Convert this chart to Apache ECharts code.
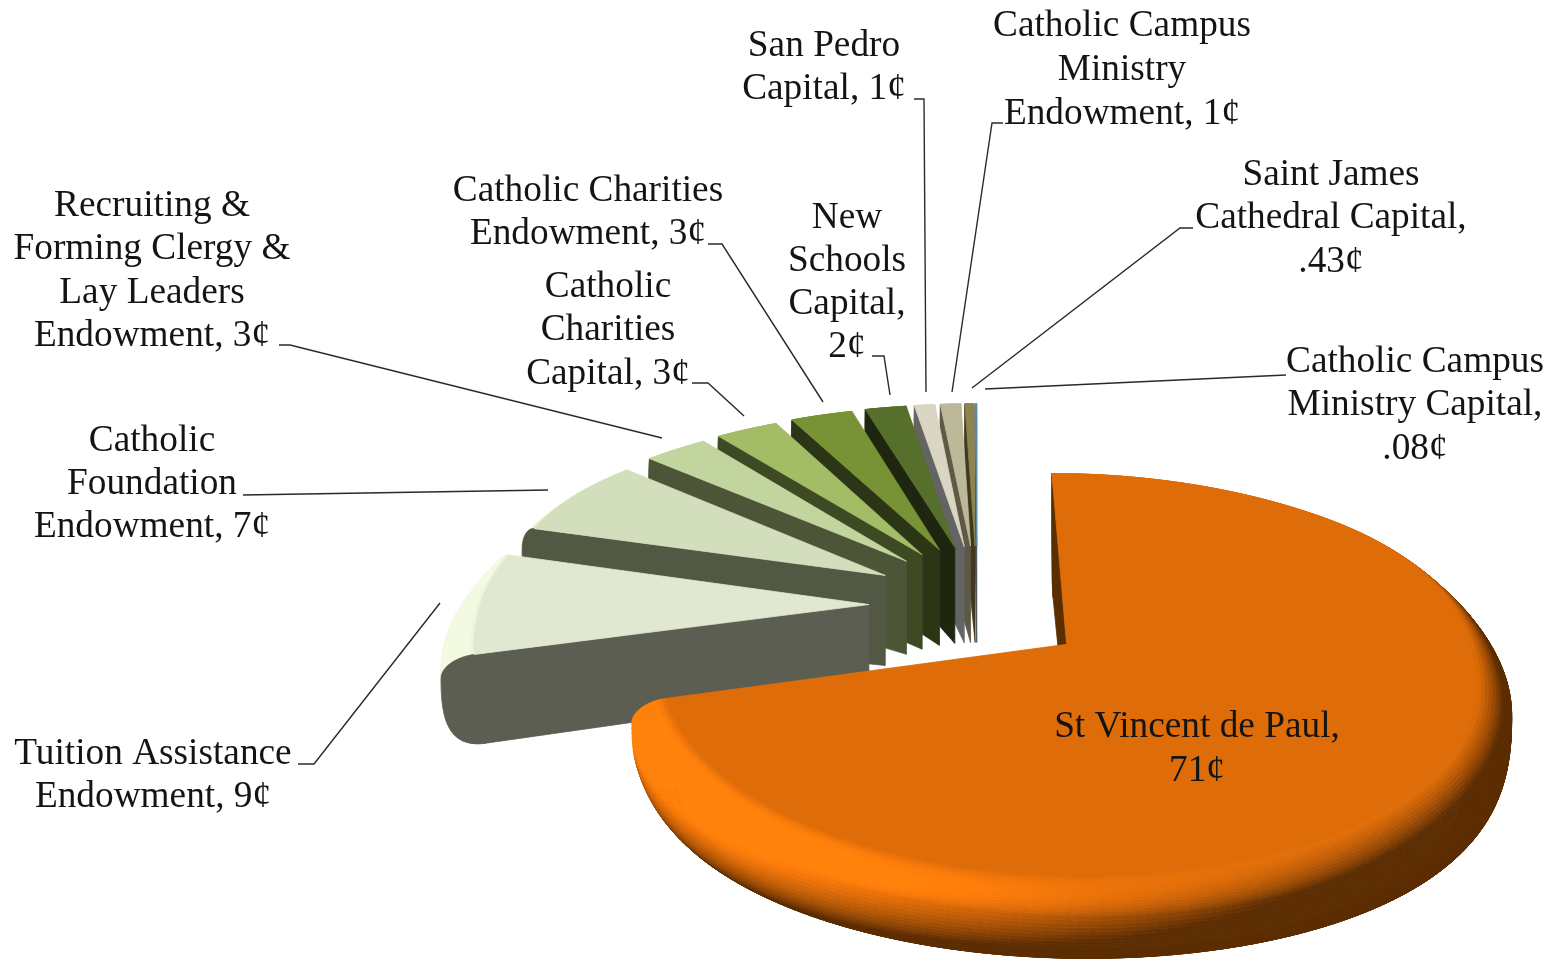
<!DOCTYPE html>
<html><head><meta charset="utf-8">
<style>html,body{margin:0;padding:0;background:#fff}#c{width:1557px;height:965px}</style>
<script src="https://cdn.jsdelivr.net/npm/echarts@6/dist/echarts.min.js"></script>
</head><body><div id="c"></div>
<script>
const categories=["St Vincent de Paul","Tuition Assistance Endowment","Catholic Foundation Endowment","Recruiting & Forming Clergy & Lay Leaders Endowment","Catholic Charities Capital","Catholic Charities Endowment","New Schools Capital","San Pedro Capital","Catholic Campus Ministry Endowment","Saint James Cathedral Capital","Catholic Campus Ministry Capital"];
const values=[71,9,7,3,3,3,2,1,1,0.43,0.08];
const labelLines=[
 ["St Vincent de Paul,","71¢"],
 ["Tuition Assistance","Endowment, 9¢"],
 ["Catholic","Foundation","Endowment, 7¢"],
 ["Recruiting &","Forming Clergy &","Lay Leaders","Endowment, 3¢"],
 ["Catholic","Charities","Capital, 3¢"],
 ["Catholic Charities","Endowment, 3¢"],
 ["New","Schools","Capital,","2¢"],
 ["San Pedro","Capital, 1¢"],
 ["Catholic Campus","Ministry","Endowment, 1¢"],
 ["Saint James","Cathedral Capital,",".43¢"],
 ["Catholic Campus","Ministry Capital,",".08¢"]
];
const topColors=["#DE6C08","#E1E8D1","#D3DFBC","#C3D59E","#A2BD65","#789335","#56702B","#DAD6C3","#BDB998","#8E8450","#5F8FB0"];
const wallColors=["#5A2E00","#5B5E50","#535844","#4D5537","#3E4A24","#2C3616","#1E2610","#646464","#5E5845","#3D3A20","#3D4A50"];
// label layout: centre x, y of each line's middle
const labelX=[1197,153,152,152,608,588,847,824,1122,1331,1415];
const labelY=[[727,771],[754,797],[441,484,527],[206,249,293,336],[287,330,374],[191,234],[218,261,304,347],[46,89],[26,70,114],[175,218,262],[362,405,449]];
const leaderLines=[
 null,
 [[298,764],[314,764],[440,603]],
 [[243,495],[548,490]],
 [[279,345],[290,345],[662,438]],
 [[692,383],[708,383],[744,416]],
 [[708,244],[722,244],[823,402]],
 [[872,356],[884,356],[890,395]],
 [[914,99],[924,99],[926,392]],
 [[1003,123],[992,123],[952,392]],
 [[1193,228],[1180,228],[972,388]],
 [[1286,375],[985,389]]
];
// projection of the tilted pie
const G={cx:977,cy:605,A:416,B:190,p:0.19,ex:0.26,ez:0.33,bevel:0.07,H:84,hb:18};
const L=[-0.7,0.25,0.67];
const total=values.reduce((a,b)=>a+b,0);
const starts=[];values.reduce((a,v,i)=>{starts[i]=a;return a+v;},0);
const rad=v=>v/total*Math.PI*2;
function proj(px,pz,h){const d=1-G.p*pz;const hh=h*(pz>0?1+0.4*pz-0.4*pz*pz:1-0.45*pz);return [G.cx+G.A*px/d,G.cy+G.B*pz/d+hh];}
function hex(c){return [1,3,5].map(i=>parseInt(c.substr(i,2),16));}
function shade(base,f){
  const c=hex(base);
  if(Math.min.apply(null,c)>120)f=Math.min(f,250/Math.max.apply(null,c));
  const b=c.map(x=>Math.max(0,Math.min(255,Math.round(x*f))));return 'rgb('+b.join(',')+')';
}
function innerR(a){const c=-Math.cos(a);let t=(c+0.7)/0.9;t=Math.max(0,Math.min(1,t));const f=t*t*(3-2*t);return 1-0.004-G.bevel*f;}
const PHI1=70*Math.PI/180,PHI2=165*Math.PI/180;
function profile(a){ // [r,h,phi] from inner edge of the bevel round to the foot of the wall
  const r0=innerR(a),out=[];const n=14;
  for(let k=0;k<=n;k++){const q=k/n*Math.PI/2;out.push([r0+(1-r0)*Math.sin(q),G.hb*(1-Math.cos(q)),k/n*PHI1]);}
  const m=24;
  for(let k=1;k<=m;k++){const t=k/m;out.push([1-0.1*Math.pow(t,2.5),G.hb+(G.H-G.hb)*Math.sin(t*Math.PI/2),PHI1+t*(PHI2-PHI1)]);}
  return out;
}
function pieceFor(i){
  const a0=rad(starts[i]),a1=rad(starts[i]+values[i]),mid=(a0+a1)/2;
  const ox=G.ex*Math.sin(mid),oz=-G.ez*Math.cos(mid);
  const P=(a,r,h)=>proj(ox+r*Math.sin(a),oz-r*Math.cos(a),h);
  const kids=[];
  const add=(pts,fill)=>kids.push({type:'polygon',silent:true,shape:{points:pts},style:{fill:fill,stroke:fill,lineWidth:0.8}});
  const steps=Math.max(2,Math.ceil((a1-a0)/(Math.PI/150)));
  const profs=[];for(let s=0;s<=steps;s++)profs.push(profile(a0+(a1-a0)*s/steps));
  const nk=profs[0].length;
  // rim, from the foot of the wall up to the flat top
  for(let k=nk-1;k>0;k--){
    for(let s=0;s<steps;s++){
      const b0=a0+(a1-a0)*s/steps,b1=a0+(a1-a0)*(s+1)/steps,bm=(b0+b1)/2;
      const u0=profs[s][k],v0=profs[s][k-1],u1=profs[s+1][k],v1=profs[s+1][k-1];
      const phi=(u0[2]+v0[2])/2;
      const n=[Math.sin(phi)*Math.sin(bm),-Math.sin(phi)*Math.cos(bm),Math.cos(phi)];
      const d=n[0]*L[0]+n[1]*L[1]+n[2]*L[2];
      const f=Math.min(1.2,Math.max(0.42,0.22+1.2*Math.max(0,d)));
      add([P(b0,u0[0],u0[1]),P(b1,u1[0],u1[1]),P(b1,v1[0],v1[1]),P(b0,v0[0],v0[1])],shade(topColors[i],f));
    }
  }
  // radial wall at the start edge
  const wall=[P(a0,0,0)];
  profs[0].forEach(q=>wall.push(P(a0,q[0],q[1])));
  wall.push(P(a0,0,G.H));
  add(wall,wallColors[i]);
  // flat top
  const top=[P(a0,0,0)];
  for(let s=0;s<=steps;s++){const a=a0+(a1-a0)*s/steps;top.push(P(a,innerR(a),0));}
  add(top,topColors[i]);
  return {type:'group',children:kids};
}
function labelFor(i){
  const kids=[];
  labelLines[i].forEach((t,k)=>kids.push({type:'text',silent:true,style:{text:t,x:labelX[i],y:labelY[i][k],fill:'#141414',font:'37.3px "Liberation Serif"',align:'center',verticalAlign:'middle'}}));
  if(leaderLines[i])kids.push({type:'polyline',silent:true,shape:{points:leaderLines[i]},style:{fill:'none',stroke:'#2a2a2a',lineWidth:1.4}});
  return {type:'group',children:kids};
}
const drawOrder=values.map((v,i)=>[v,i,categories[i]]).reverse();
const chart=echarts.init(document.getElementById('c'),null,{renderer:'canvas'});
chart.setOption({
  animation:false,backgroundColor:'#fff',
  series:[
   {type:'custom',coordinateSystem:'none',silent:true,clip:false,data:drawOrder,renderItem:(p,api)=>pieceFor(api.value(1))},
   {type:'custom',coordinateSystem:'none',silent:true,clip:false,z:5,data:drawOrder,renderItem:(p,api)=>labelFor(api.value(1))}
  ]
});
</script></body></html>
